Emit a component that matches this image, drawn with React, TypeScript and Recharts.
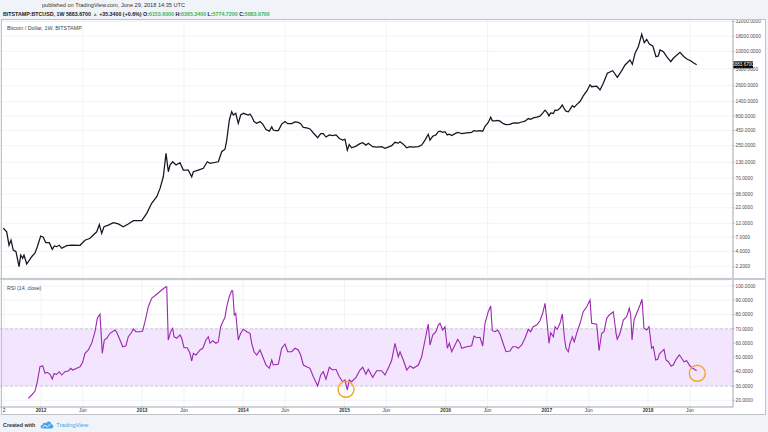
import React from 'react';
import { LineChart, Line, XAxis, YAxis, CartesianGrid, ReferenceArea, ReferenceLine, ReferenceDot } from 'recharts';

const FONT = '"Liberation Sans", Arial, sans-serif';

// ---- time axis ----
const timeStart = 2011.595;
const timeEnd = 2018.84;
const timeTicks = [2011.635, 2012, 2012.414, 2013, 2013.414, 2014, 2014.414, 2015, 2015.414, 2016, 2016.414, 2017, 2017.414, 2018, 2018.414];
const timeTickLabels = ['2', '2012', 'Jun', '2013', 'Jun', '2014', 'Jun', '2015', 'Jun', '2016', 'Jun', '2017', 'Jun', '2018', 'Jun'];

// ---- price axis ----
const priceTicks = [2.2, 4, 7, 12, 22, 38, 70, 130, 250, 450, 800, 1400, 2600, 5000, 10000, 18000, 32000];
const priceDomain = [1.414, 33950];
const lastClose = 5883.67;

// ---- RSI axis ----
const rsiTicks = [20, 30, 40, 50, 60, 70, 80, 90, 100];
const rsiDomain = [15.31, 104.2];
const rsiBand = [30, 70];

// ---- BTCUSD weekly close (decimal year, price) ----
const priceTimes = [
  2011.628, 2011.661, 2011.684, 2011.704, 2011.726, 2011.753, 2011.783, 2011.800, 2011.819, 2011.832,
  2011.859, 2011.908, 2011.941, 2011.964, 2011.997, 2012.023, 2012.047, 2012.082, 2012.112, 2012.132,
  2012.155, 2012.181, 2012.205, 2012.254, 2012.304, 2012.386, 2012.435, 2012.485, 2012.517, 2012.551,
  2012.577, 2012.600, 2012.623, 2012.666, 2012.715, 2012.764, 2012.814, 2012.863, 2012.913, 2012.996,
  2013.045, 2013.094, 2013.144, 2013.177, 2013.209, 2013.236, 2013.259, 2013.275, 2013.302, 2013.335,
  2013.374, 2013.407, 2013.456, 2013.490, 2013.506, 2013.555, 2013.605, 2013.644, 2013.671, 2013.753,
  2013.786, 2013.819, 2013.836, 2013.862, 2013.885, 2013.901, 2013.925, 2013.950, 2013.974, 2014.000,
  2014.049,
  2014.066, 2014.083, 2014.106, 2014.132, 2014.165, 2014.192, 2014.224, 2014.257, 2014.281, 2014.296,
  2014.321, 2014.346, 2014.379, 2014.412, 2014.439, 2014.478, 2014.511, 2014.543, 2014.567, 2014.593,
  2014.626, 2014.659, 2014.692, 2014.735, 2014.765, 2014.790, 2014.817, 2014.850, 2014.883, 2014.916,
  2014.949, 2014.982, 2015.005, 2015.028, 2015.047, 2015.071, 2015.114, 2015.153, 2015.180, 2015.212,
  2015.235, 2015.279, 2015.318, 2015.368, 2015.400, 2015.443, 2015.467, 2015.499, 2015.532, 2015.549,
  2015.581, 2015.615, 2015.647, 2015.680, 2015.730, 2015.763, 2015.796, 2015.828, 2015.845, 2015.872,
  2015.904, 2015.927, 2015.944, 2015.971, 2015.993, 2016.016, 2016.036, 2016.060, 2016.092, 2016.119,
  2016.142, 2016.158, 2016.208, 2016.257, 2016.280, 2016.307, 2016.339, 2016.366, 2016.389, 2016.421,
  2016.445, 2016.461, 2016.488, 2016.514, 2016.537, 2016.570, 2016.596, 2016.636, 2016.662, 2016.695,
  2016.718, 2016.751, 2016.784, 2016.817, 2016.840, 2016.866, 2016.900, 2016.932, 2016.959, 2016.982,
  2017.005, 2017.021, 2017.038, 2017.064, 2017.081, 2017.103, 2017.130, 2017.153, 2017.173, 2017.189,
  2017.212, 2017.229, 2017.252, 2017.271, 2017.295, 2017.328, 2017.360, 2017.394, 2017.427, 2017.443,
  2017.493,
  2017.526, 2017.558, 2017.598, 2017.651, 2017.697, 2017.740, 2017.773, 2017.822, 2017.845, 2017.872,
  2017.904, 2017.938, 2017.963, 2017.987, 2018.013, 2018.047, 2018.079, 2018.102, 2018.119, 2018.152,
  2018.185, 2018.225, 2018.250, 2018.316, 2018.356, 2018.388, 2018.422, 2018.448, 2018.481,
];
const priceValues = [
  9.87, 8.6, 5.1, 6.2, 4.2, 3.96, 2.2, 3.47, 3.06, 3.47,
  2.44, 3.25, 3.76, 4.81, 7.3, 6.95, 5.62, 5.62, 4.34, 4.94,
  4.81, 5.1, 4.52, 5.0, 5.1, 5.08, 6.2, 6.68, 7.6, 8.6,
  11.4, 8.1, 10.5, 11.2, 12.3, 11.7, 10.5, 11.7, 13.3, 13.3,
  17.7, 26.2, 34, 47, 74, 185, 90, 117, 133, 117,
  128, 96, 96, 74, 90, 96, 103, 133, 125, 133,
  197, 217, 311, 681, 942, 828, 885, 598, 828, 885,
  828,
  860, 780, 640, 600, 640, 580, 470, 440, 520, 460,
  450, 450, 580, 640, 590, 590, 630, 620, 590, 510,
  500, 480, 410, 340, 400, 400, 350, 380, 370, 380,
  330, 310, 320, 210, 260, 230, 245, 270, 280, 255,
  275, 240, 235, 240, 225, 240, 250, 285, 275, 290,
  265, 230, 240, 235, 240, 255, 310, 390, 310, 360,
  380, 430, 440, 420, 430, 380, 390, 370, 400, 420,
  410, 400, 410, 420, 450, 440, 450, 440, 530, 620,
  760, 660, 660, 670, 650, 590, 570, 575, 600, 610,
  605, 630, 650, 720, 700, 740, 760, 790, 890, 1000,
  900, 800, 900, 880, 1000, 990, 1080, 1230, 1050, 960,
  940, 1030, 1190, 1120, 1240, 1400, 1750, 2100, 2700, 2500,
  2550,
  2200, 2860, 4230, 4680, 3610, 4680, 5850, 7110, 6010, 9240,
  11960, 19400, 13980, 15970, 13290, 12290, 8090, 8310, 10510, 9830,
  8090, 6650, 7600, 9600, 8090, 7300, 6920, 6400, 5883.67,
];

// ---- RSI (14, close) ----
const rsiTimes = [
  2011.875, 2011.908, 2011.941, 2011.964, 2011.990, 2012.017, 2012.040, 2012.063, 2012.089, 2012.112,
  2012.129, 2012.155, 2012.181, 2012.205, 2012.237, 2012.270, 2012.294, 2012.314, 2012.336, 2012.386,
  2012.412, 2012.435, 2012.468, 2012.501, 2012.534, 2012.557, 2012.583, 2012.606, 2012.626, 2012.650,
  2012.682, 2012.732, 2012.748, 2012.774, 2012.808, 2012.840, 2012.863, 2012.890, 2012.913, 2012.939,
  2012.979, 2013.005, 2013.028, 2013.061, 2013.094, 2013.144, 2013.193, 2013.233, 2013.243, 2013.258,
  2013.282, 2013.302, 2013.315, 2013.341, 2013.374, 2013.391, 2013.414, 2013.446, 2013.473, 2013.490,
  2013.506, 2013.532, 2013.572, 2013.599, 2013.631, 2013.654, 2013.671, 2013.697, 2013.730, 2013.753,
  2013.776, 2013.802, 2013.819, 2013.836, 2013.861, 2013.885, 2013.895, 2013.911, 2013.925, 2013.950,
  2013.974, 2014.000, 2014.033, 2014.066, 2014.083, 2014.106, 2014.132, 2014.165, 2014.192, 2014.224,
  2014.257, 2014.281, 2014.296, 2014.346, 2014.379, 2014.412, 2014.439, 2014.478, 2014.511, 2014.543,
  2014.567, 2014.593, 2014.626, 2014.659, 2014.692, 2014.735, 2014.765, 2014.790, 2014.817, 2014.850,
  2014.883, 2014.916, 2014.949, 2014.982, 2015.005, 2015.028, 2015.047, 2015.071, 2015.114, 2015.153,
  2015.180, 2015.212, 2015.235, 2015.279, 2015.318, 2015.368, 2015.400, 2015.443, 2015.467, 2015.499,
  2015.532, 2015.549, 2015.581, 2015.615, 2015.647, 2015.680, 2015.730, 2015.763, 2015.796, 2015.828,
  2015.845, 2015.872, 2015.904, 2015.927, 2015.944, 2015.971, 2015.993, 2016.016, 2016.036, 2016.060,
  2016.092, 2016.119, 2016.142, 2016.158, 2016.208, 2016.257, 2016.280, 2016.307, 2016.339, 2016.366,
  2016.389, 2016.421, 2016.445, 2016.461, 2016.488, 2016.514, 2016.537, 2016.570, 2016.596, 2016.636,
  2016.662, 2016.695, 2016.718, 2016.751, 2016.784, 2016.817, 2016.840, 2016.866, 2016.900, 2016.932,
  2016.959, 2016.982, 2017.005, 2017.021, 2017.038, 2017.064, 2017.081, 2017.103, 2017.130, 2017.153,
  2017.173, 2017.189, 2017.212, 2017.229, 2017.252, 2017.271, 2017.295, 2017.328, 2017.360, 2017.394,
  2017.427, 2017.443, 2017.493, 2017.516, 2017.542, 2017.565, 2017.592, 2017.617, 2017.657, 2017.684,
  2017.696, 2017.723, 2017.756, 2017.789, 2017.815, 2017.829, 2017.842, 2017.862, 2017.888, 2017.921,
  2017.941, 2017.960, 2017.987, 2018.010, 2018.036, 2018.052, 2018.076, 2018.096, 2018.112, 2018.135,
  2018.158, 2018.178, 2018.201, 2018.227, 2018.250, 2018.277, 2018.309, 2018.333, 2018.356, 2018.382,
  2018.415, 2018.442, 2018.481,
];
const rsiValues = [
  21.4, 23.7, 26.5, 33, 43.5, 44.2, 38.9, 39.6, 38.2, 34.9,
  38.6, 38.2, 40, 37.7, 40, 40.5, 42.4, 41.2, 41.9, 43.5,
  46.6, 52.9, 55.2, 59.9, 68, 77.4, 80.2, 52.9, 62.2, 63.4,
  66.9, 69.2, 67.6, 63.4, 57.5, 58.2, 64.5, 66.9, 69.9, 68,
  68, 68.5, 75, 85.5, 91.4, 94.2, 97.2, 99.5, 99.5, 62.2,
  68, 70.4, 64.5, 63.4, 65.7, 63.4, 56.8, 56.8, 52.9, 47.5,
  52.9, 51.7, 55.2, 56.4, 62.2, 64.5, 59.9, 61.7, 59.9, 61,
  71.5, 75.7, 78.1, 85.5, 92.5, 96.7, 96.7, 79.7, 80.9, 62.2,
  66.9, 69.7, 68, 66.9, 59.9, 54, 51.7, 55.2, 50.5, 44.7,
  42.4, 48.2, 44.7, 45.2, 56.4, 59.4, 54, 54, 56.4, 55.2,
  51.7, 44.7, 43.5, 42.4, 36.5, 30, 37.7, 40, 34.7, 43.1,
  41.2, 41.7, 36.5, 33, 34.2, 27.2, 34.2, 33, 36.1, 41.2,
  43.1, 38.2, 41.7, 36.1, 40.7, 40.7, 37.7, 44, 48.2, 59.9,
  50.5, 54, 48.2, 41.2, 44, 42.4, 44.7, 50.5, 62.2, 73.4,
  58.7, 65.7, 68, 72.7, 73.9, 69.2, 71.5, 56.4, 59.9, 54,
  58.7, 62.7, 60, 56.4, 57.5, 58.2, 65, 63.8, 64.1, 58,
  73.9, 82, 86, 68.7, 68, 69.2, 66.4, 59.4, 54, 54.5,
  57.5, 57.5, 56.4, 58.7, 63.4, 69.7, 68, 71.5, 72.7, 75.7,
  80.9, 87.9, 72.7, 59.9, 67.3, 64.5, 71.5, 69.7, 73.9, 80.4,
  64.5, 56.4, 54, 59.9, 64.5, 61, 66.9, 73.9, 82, 85.5,
  90.2, 73.9, 73.2, 54.7, 66.9, 68, 77.4, 79.7, 82, 66.9,
  62.7, 66.9, 76.2, 78.5, 84.4, 79.7, 62.2, 76.2, 80.9, 86.7,
  90.7, 70.4, 69.2, 71.5, 56.4, 57.5, 48.2, 48.7, 52.4, 54,
  55.7, 48.2, 47, 44, 44.7, 48.7, 51.7, 49.4, 47, 47.7,
  44, 42.4, 40.7,
];

// highlighted RSI points (orange circles)
const highlightTimes = [2015.015, 2018.487];
const highlightRsi = [27.7, 38.9];

const priceData = priceTimes.map((t, i) => ({ t, price: priceValues[i] }));
const rsiData = rsiTimes.map((t, i) => ({ t, rsi: rsiValues[i] }));

const fmt4 = (v: number) => Number(v).toFixed(4);

const GRID = '#eef0f3';
const AXIS = '#a9adb2';
const TICK_TEXT = { fontSize: 4.8, fill: '#4a4d58', fontFamily: FONT };

const TimeTick = (props: any) => {
  const { x, y, payload } = props;
  const idx = timeTicks.indexOf(payload.value);
  const label = idx >= 0 ? timeTickLabels[idx] : '';
  const isYear = /^\d{4}$/.test(label);
  return (
    <text x={x} y={y + 3.6} textAnchor="middle" fontSize={4.8} fontWeight={isYear ? 700 : 400} fill="#333" fontFamily={FONT}>
      {label}
    </text>
  );
};

const PriceTag = (props: any) => {
  const vb = props.viewBox || {};
  const x = (vb.x || 0) + (vb.width || 0);
  const y = vb.y || 0;
  return (
    <g>
      <rect x={x} y={y - 3.5} width={20} height={7} fill="#000" />
      <text x={x + 10} y={y + 1.6} textAnchor="middle" fontSize={4.6} fill="#fff" fontFamily={FONT}>
        {lastClose.toFixed(4)}
      </text>
    </g>
  );
};

const green = '#3cb55a';

export default function App() {
  return (
    <div style={{ position: 'absolute', left: 0, top: 0, width: 768, height: 432, background: '#f0f3f7', overflow: 'hidden', fontFamily: FONT }}>
      {/* header */}
      <div style={{ position: 'absolute', left: 42, top: 2, fontSize: 5.6, color: '#333', whiteSpace: 'nowrap', lineHeight: '7px' }}>
        published on TradingView.com, June 29, 2018 14:35 UTC
      </div>
      <div style={{ position: 'absolute', left: 3, top: 11, fontSize: 5.3, color: '#222', fontWeight: 700, whiteSpace: 'nowrap', lineHeight: '7px' }}>
        <span>BITSTAMP:BTCUSD, 1W</span> <span>5883.6700</span> <span style={{ color: green }}>▲</span> <span>+35.3400 (+0.6%)</span>{' '}
        <span>O:</span><span style={{ color: green }}>6153.6000</span> <span>H:</span><span style={{ color: green }}>6365.3400</span>{' '}
        <span>L:</span><span style={{ color: green }}>5774.7200</span> <span>C:</span><span style={{ color: green }}>5883.6700</span>
      </div>

      {/* chart panel background */}
      <div style={{ position: 'absolute', left: 1, top: 19, width: 765, height: 396, background: '#fff' }} />

      {/* price pane */}
      <div style={{ position: 'absolute', left: 0, top: 20 }}>
        <LineChart width={766} height={258} data={priceData} margin={{ top: 0, right: 0, bottom: 0, left: 0 }}>
          <CartesianGrid stroke={GRID} strokeWidth={0.8} />
          <XAxis type="number" dataKey="t" domain={[timeStart, timeEnd]} ticks={timeTicks} hide allowDataOverflow />
          <YAxis
            orientation="right"
            scale="log"
            domain={priceDomain}
            ticks={priceTicks}
            allowDataOverflow
            interval={0}
            width={33}
            tickFormatter={fmt4}
            tick={TICK_TEXT}
            tickSize={1.5}
            tickMargin={1}
            axisLine={{ stroke: AXIS }}
            tickLine={{ stroke: AXIS }}
          />
          <Line dataKey="price" stroke="#131722" strokeWidth={1.25} dot={false} isAnimationActive={false} />
          <ReferenceLine y={lastClose} stroke="none" ifOverflow="visible" label={PriceTag} />
        </LineChart>
      </div>

      {/* RSI pane */}
      <div style={{ position: 'absolute', left: 0, top: 280 }}>
        <LineChart width={766} height={135} data={rsiData} margin={{ top: 0, right: 0, bottom: 0, left: 0 }}>
          <CartesianGrid stroke={GRID} strokeWidth={0.8} />
          <ReferenceArea y1={rsiBand[0]} y2={rsiBand[1]} fill="#f3e5fd" fillOpacity={1} stroke="none" />
          <ReferenceLine y={rsiBand[1]} stroke="#c4bccd" strokeDasharray="3 2" strokeWidth={0.8} />
          <ReferenceLine y={rsiBand[0]} stroke="#c4bccd" strokeDasharray="3 2" strokeWidth={0.8} />
          <XAxis
            type="number"
            dataKey="t"
            domain={[timeStart, timeEnd]}
            ticks={timeTicks}
            interval={0}
            allowDataOverflow
            height={8}
            tickSize={1.5}
            tickMargin={0}
            tick={<TimeTick />}
            axisLine={{ stroke: AXIS }}
            tickLine={{ stroke: AXIS }}
          />
          <YAxis
            orientation="right"
            domain={rsiDomain}
            ticks={rsiTicks}
            allowDataOverflow
            interval={0}
            width={33}
            tickFormatter={fmt4}
            tick={TICK_TEXT}
            tickSize={1.5}
            tickMargin={1}
            axisLine={{ stroke: AXIS }}
            tickLine={{ stroke: AXIS }}
          />
          <Line dataKey="rsi" stroke="#9c27b0" strokeWidth={1.1} dot={false} isAnimationActive={false} />
          {highlightTimes.map((t, i) => (
            <ReferenceDot key={i} x={t} y={highlightRsi[i]} r={8} fill="none" stroke="#f5a623" strokeWidth={1.4} ifOverflow="visible" />
          ))}
        </LineChart>
      </div>

      {/* pane labels */}
      <div style={{ position: 'absolute', left: 7, top: 25, fontSize: 5.4, color: '#444', whiteSpace: 'nowrap', lineHeight: '7px' }}>
        Bitcoin / Dollar, 1W, BITSTAMP
      </div>
      <div style={{ position: 'absolute', left: 7, top: 285, fontSize: 5.2, color: '#444', whiteSpace: 'nowrap', lineHeight: '7px' }}>
        RSI (14, close)
      </div>

      {/* frame + pane separator */}
      <div style={{ position: 'absolute', left: 0, top: 278, width: 766, height: 2, background: '#c7cbd0' }} />
      <div style={{ position: 'absolute', left: 1, top: 19, width: 765, height: 396, border: '1px solid #bfc3c8', boxSizing: 'border-box' }} />

      {/* footer */}
      <div style={{ position: 'absolute', left: 3, top: 420, fontSize: 5.4, color: '#333', fontWeight: 700, whiteSpace: 'nowrap', lineHeight: '8px', display: 'flex', alignItems: 'center' }}>
        <span>Created with</span>
        <svg width={14} height={9} viewBox="0 0 14 9" style={{ marginLeft: 5, marginRight: 2 }}>
          <path d="M2.5,8.5 C0,8.5 0,5 2.5,5 C2.5,2.8 5,2 6.3,3.2 C7.3,0.6 11.4,0.8 11.3,4.2 C14,4.2 14,8.5 11.3,8.5 Z" fill="#43a3e8" />
          <polyline points="2.5,7.3 5,5.2 7.2,6.8 10.5,4.2" stroke="#fff" fill="none" strokeWidth={0.9} />
        </svg>
        <span style={{ color: '#3ea2e8', fontWeight: 400, fontSize: 5.8 }}>TradingView</span>
      </div>
    </div>
  );
}
